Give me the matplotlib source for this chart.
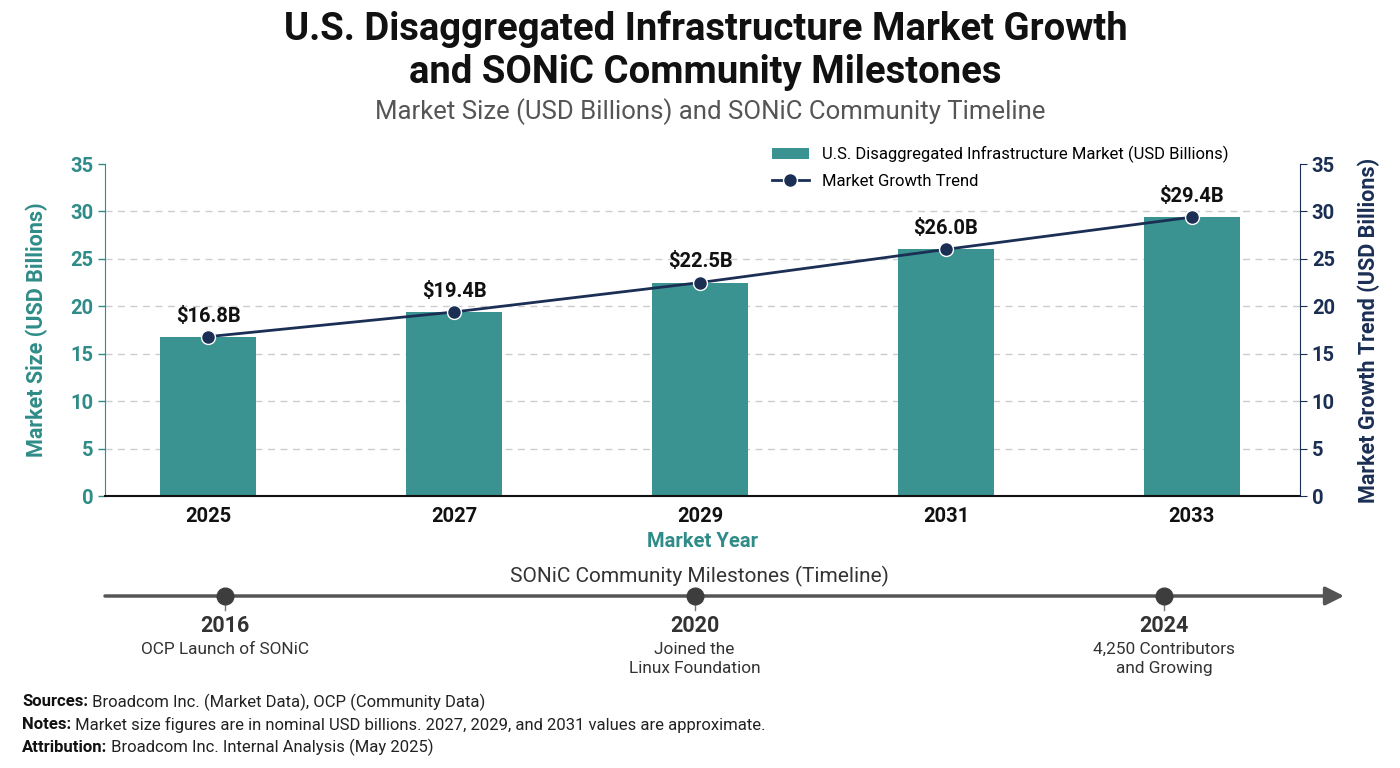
import numpy as np
import matplotlib
matplotlib.use('Agg')
import matplotlib.pyplot as plt

plt.rcParams['font.family'] = ['Roboto', 'DejaVu Sans']

# Data
years = ['2025', '2027', '2029', '2031', '2033']
market = [16.8, 19.4, 22.5, 26.0, 29.4]
labels = ['$16.8B', '$19.4B', '$22.5B', '$26.0B', '$29.4B']

ms_years = [2016, 2020, 2024]
ms_titles = ['2016', '2020', '2024']
ms_texts = ['OCP Launch of SONiC', 'Joined the\nLinux Foundation', '4,250 Contributors\nand Growing']

notes = [
  ('Sources:', 'Broadcom Inc. (Market Data), OCP (Community Data)'),
  ('Notes:', 'Market size figures are in nominal USD billions. 2027, 2029, and 2031 values are approximate.'),
  ('Attribution:', 'Broadcom Inc. Internal Analysis (May 2025)'),
]

teal = '#3a9390'
teal_txt = '#2f8c88'
navy = '#1b2f55'

W, H = 1400, 768
fig = plt.figure(figsize=(W / 100, H / 100), dpi=100)

def fy(p):
  return 1 - p / H

# Title
fig.text(0.504, fy(51), 'U.S. Disaggregated Infrastructure Market Growth\nand SONiC Community Milestones',
         ha='center', va='center', fontsize=27.5, fontweight='bold', color='#111111', linespacing=1.22)
fig.text(0.507, fy(112), 'Market Size (USD Billions) and SONiC Community Timeline',
         ha='center', va='center', fontsize=18.5, color='#555555')

# Main chart
ax = fig.add_axes([105 / W, fy(496), (1300 - 105) / W, (496 - 164) / H])
x = np.arange(len(years))
bars = ax.bar(x, market, width=0.39, color=teal, zorder=2,
              label='U.S. Disaggregated Infrastructure Market (USD Billions)')
ax.set_xlim(-0.42, len(years) - 1 + 0.44)
ax.set_ylim(0, 35)
ax.set_yticks(np.arange(0, 36, 5))
ax.set_xticks(x)
ax.set_xticklabels(years, fontsize=14.5, fontweight='bold', color='#111111')
ax.tick_params(axis='x', length=0, pad=8)
ax.tick_params(axis='y', colors=teal_txt, labelsize=14.5, length=5, width=1)
for t in ax.get_yticklabels():
  t.set_fontweight('bold')
for yv in range(5, 31, 5):
  ax.axhline(yv, color='#cccccc', lw=1, ls=(0, (5, 4)), zorder=0)
ax.spines['top'].set_visible(False)
ax.spines['right'].set_visible(False)
ax.spines['left'].set_color(teal_txt)
ax.spines['bottom'].set_color('#111111')
ax.spines['bottom'].set_linewidth(1.5)
ax.set_ylabel('Market Size (USD Billions)', fontsize=15.5, fontweight='bold', color=teal_txt, labelpad=16)
ax.set_xlabel('Market Year', fontsize=14.5, fontweight='bold', color=teal_txt, labelpad=4)

ax2 = ax.twinx()
ax2.set_ylim(0, 35)
ax2.set_yticks(np.arange(0, 36, 5))
line, = ax2.plot(x, market, color=navy, lw=2, marker='o', markersize=10,
                 markerfacecolor=navy, markeredgecolor='white', markeredgewidth=1,
                 zorder=3, label='Market Growth Trend')
for xi, v, lab in zip(x, market, labels):
  ax2.annotate(lab, (xi, v), textcoords='offset points', xytext=(0, 8),
               ha='center', va='bottom', fontsize=14.5, fontweight='bold', color='#111111')
ax2.spines['top'].set_visible(False)
ax2.spines['left'].set_visible(False)
ax2.spines['bottom'].set_visible(False)
ax2.spines['right'].set_color(navy)
ax2.tick_params(axis='y', colors=navy, labelsize=14.5, length=5)
for t in ax2.get_yticklabels():
  t.set_fontweight('bold')
ax2.set_ylabel('Market Growth Trend (USD Billions)', fontsize=15.5, fontweight='bold', color=navy, labelpad=16)

leg = ax2.legend([bars, line], [bars.get_label(), line.get_label()], loc='upper left',
                 bbox_to_anchor=((757 - 105) / (1300 - 105), 1.1), frameon=False,
                 fontsize=12, handlelength=2.2, labelspacing=0.65)

# Timeline
tl = fig.add_axes([0, 0, 1, 1], zorder=-1)
tl.set_xlim(2016 - 225 / 117.4, 2016 + (W - 225) / 117.4)
tl.set_ylim(H, 0)
tl.axis('off')
y0 = 596
tl.annotate('', xy=(2016 + (1344 - 225) / 117.4, y0), xytext=(2016 - 120 / 117.4, y0),
            arrowprops=dict(arrowstyle='-|>', lw=2.5, color='#555555', mutation_scale=28, shrinkA=0, shrinkB=0))
tl.text(2016 + (699 - 225) / 117.4, 576, 'SONiC Community Milestones (Timeline)',
        ha='center', va='center', fontsize=15, color='#333333')
for yr, ttl, txt in zip(ms_years, ms_titles, ms_texts):
  tl.plot([yr, yr], [y0, y0 + 14], color='#777777', lw=1, zorder=2)
  tl.plot(yr, y0, 'o', markersize=12, color='#3d3d3d', zorder=3)
  tl.text(yr, 626, ttl, ha='center', va='center', fontsize=15.5, fontweight='bold', color='#333333')
  tl.text(yr, 642, txt, ha='center', va='top', fontsize=12.4, color='#333333', linespacing=1.3)

# Footnotes
for i, (b, r) in enumerate(notes):
  t = fig.text(22 / W, fy(702 + i * 22.5), b, ha='left', va='center', fontsize=12, fontweight='bold', color='#111111')
  ax.annotate(' ' + r, xy=(1, 0.5), xycoords=t, ha='left', va='center', fontsize=12, color='#222222',
              annotation_clip=False)

fig.savefig('out.png', dpi=100)
